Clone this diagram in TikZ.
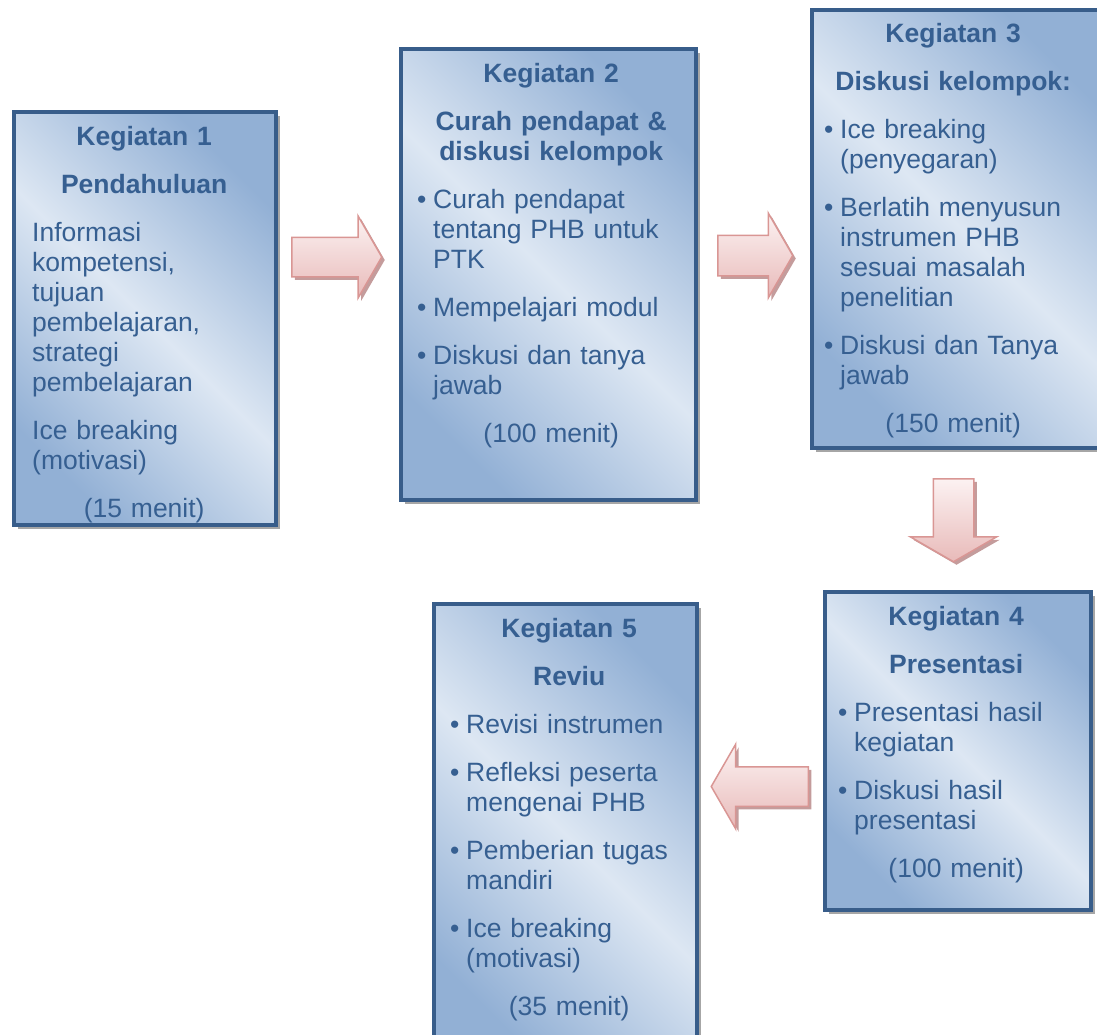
\documentclass[tikz,border=0pt]{standalone}
\usepackage{fontspec}
\setmainfont{Liberation Sans}
\usepackage{xcolor}
\usetikzlibrary{shapes,shapes.arrows,shadows,calc,positioning}
\definecolor{biruGaris}{RGB}{56,93,138}
\definecolor{biruTeks}{RGB}{54,95,145}
\definecolor{biruMuda}{RGB}{221,231,243}
\definecolor{biruTua}{RGB}{146,176,213}
\definecolor{merahGaris}{RGB}{217,150,148}
\definecolor{merahMuda}{RGB}{252,242,242}
\definecolor{merahTua}{RGB}{232,186,185}
\definecolor{bayangMerah}{RGB}{196,156,156}
\tikzstyle{kotak} = [rectangle, draw=biruGaris, line width=3.5pt, inner sep=0pt, anchor=north west, left color=biruTua, right color=biruTua, middle color=biruMuda, shading angle=-45, drop shadow={shadow xshift=4pt, shadow yshift=-4pt, fill=black!35, opacity=1}]
\tikzstyle{isi} = [anchor=base west, inner sep=0pt, text=biruTeks, align=left, font=\fontsize{26.5}{30}\selectfont, execute at begin node={\setlength{\parskip}{18pt}\setlength{\parindent}{0pt}}]
\tikzstyle{panah} = [single arrow, anchor=tail, draw=merahGaris, line width=1.5pt, inner sep=19pt, single arrow tip angle=120, top color=merahMuda, bottom color=merahTua, drop shadow={shadow xshift=3pt, shadow yshift=-3pt, fill=bayangMerah, opacity=1}]
\newcommand{\judul}[1]{{\centering\bfseries #1\par}}
\newcommand{\waktu}[1]{{\centering #1\par}}
\newcommand{\butir}[1]{\hangindent=16pt\hangafter=1\makebox[16pt][l]{\textbullet}#1\par}

\begin{document}
\begin{tikzpicture}[x=1pt,y=-1pt]
\useasboundingbox (0,0) rectangle (1097,1034);

% kotak kegiatan
\node[kotak, minimum width=262pt, minimum height=413pt] (k1) at (12,110) {};
\node[kotak, minimum width=295pt, minimum height=451pt] (k2) at (399,47) {};
\node[kotak, minimum width=300pt, minimum height=438pt] (k3) at (810,8) {};
\node[kotak, minimum width=266pt, minimum height=318pt] (k4) at (823,590) {};
\node[kotak, minimum width=263pt, minimum height=460pt] (k5) at (432,602) {};

\node[isi, text width=224pt] (t1) at ($(k1.north west)+(20,35)$) {%
\judul{Kegiatan 1}
\judul{Pendahuluan}
Informasi\newline kompetensi,\newline tujuan\newline pembelajaran,\newline strategi\newline pembelajaran\par
Ice breaking\newline (motivasi)\par
\waktu{(15 menit)}};

\node[isi, text width=268pt] (t2) at ($(k2.north west)+(18,35)$) {%
\judul{Kegiatan 2}
\judul{Curah pendapat \&\\ diskusi kelompok}
\butir{Curah pendapat\newline tentang PHB untuk\newline PTK}
\butir{Mempelajari modul}
\butir{Diskusi dan tanya\newline jawab}
\waktu{(100 menit)}};

\node[isi, text width=258pt] (t3) at ($(k3.north west)+(14,34)$) {%
\judul{Kegiatan 3}
\judul{Diskusi kelompok:}
\butir{Ice breaking\newline (penyegaran)}
\butir{Berlatih menyusun\newline instrumen PHB\newline sesuai masalah\newline penelitian}
\butir{Diskusi dan Tanya\newline jawab}
\waktu{(150 menit)}};

\node[isi, text width=236pt] (t4) at ($(k4.north west)+(15,35)$) {%
\judul{Kegiatan 4}
\judul{Presentasi}
\butir{Presentasi hasil\newline kegiatan}
\butir{Diskusi hasil\newline presentasi}
\waktu{(100 menit)}};

\node[isi, text width=238pt] (t5) at ($(k5.north west)+(18,35)$) {%
\judul{Kegiatan 5}
\judul{Reviu}
\butir{Revisi instrumen}
\butir{Refleksi peserta\newline mengenai PHB}
\butir{Pemberian tugas\newline mandiri}
\butir{Ice breaking\newline (motivasi)}
\waktu{(35 menit)}};

% panah blok
\node[panah, minimum height=90pt, minimum width=80pt, single arrow head extend=21pt] (p1) at (291,257) {};
\node[panah, inner sep=19.5pt, minimum height=75pt, minimum width=83pt, single arrow head extend=22pt] (p2) at (717,255.5) {};
\node[panah, inner sep=19.5pt, shape border rotate=270, minimum height=83pt, minimum width=85pt, single arrow head extend=23pt] (p3) at (953.5,478) {};
\node[panah, shape border rotate=180, minimum height=97pt, minimum width=83pt, single arrow head extend=22.5pt] (p4) at (809,786.5) {};

\end{tikzpicture}
\end{document}
